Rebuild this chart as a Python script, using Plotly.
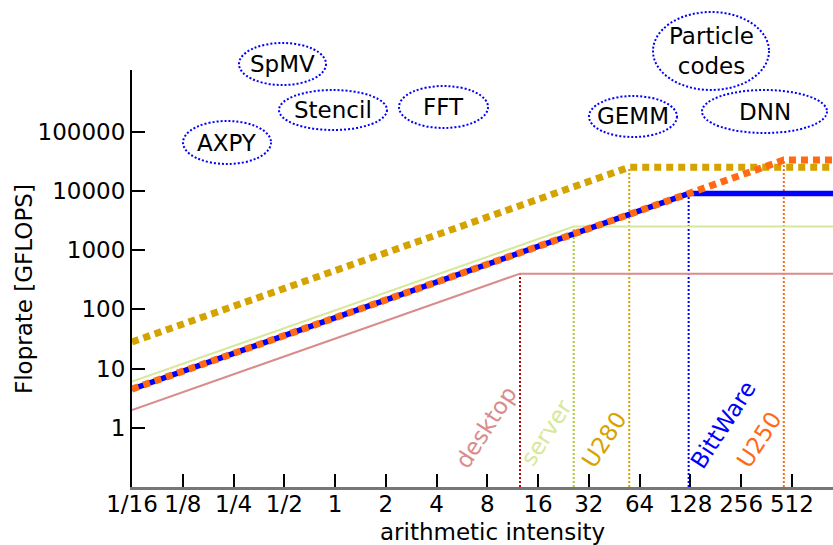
import math
import plotly.graph_objects as go

# Roofline parameters: memory bandwidth [GB/s] and peak compute [GFLOPS]
devices = ["desktop", "server", "U280", "BittWare", "U250"]
bandwidth = [32, 96, 450, 72, 72]
peak = [400, 2500, 25000, 9000, 33000]

roof_colors = ["#d98c8c", "#d6e89c", "#d4a300", "#0000ff", "#ff6a13"]
ridge_colors = ["#c00000", "#a8cc2c", "#d4a300", "#0000ff", "#ff6a13"]
label_colors = ["#d98c8c", "#d6e89c", "#d4a300", "#0000ff", "#ff6a13"]
roof_widths = [2, 2, 7, 5.5, 7]
roof_dash = ["solid", "solid", "7px,5px", "solid", "7px,5px"]
device_labels = ["desktop", "server", "U280", "BittWare", "U250"]

# Axis ticks
x_tickvals = [2.0 ** k for k in range(-4, 10)]
x_ticktext = ["1/16", "1/8", "1/4", "1/2", "1", "2", "4", "8", "16", "32",
              "64", "128", "256", "512"]
y_tickvals = [1, 10, 100, 1000, 10000, 100000]
y_ticktext = ["1", "10", "100", "1000", "10000", "100000"]

# Application kernels placed along the intensity scale
kernels = ["AXPY", "SpMV", "Stencil", "FFT", "GEMM", "Particle<br>codes", "DNN"]

AI_MIN = 1 / 16
AI_MAX = 2.0 ** 10
Y_MIN = 0.1

W, H = 833, 545
ML, MR, MT, MB = 132, 0, 70, 58
PW, PH = W - ML - MR, H - MT - MB


def px(x):
    return (x - ML) / PW


def py(y):
    return (H - MB - y) / PH


def note(x, y, text, color="black", angle=0):
    fig.add_annotation(x=px(x), y=py(y), xref="paper", yref="paper",
                       xanchor="center", yanchor="middle",
                       text=text, showarrow=False, textangle=angle,
                       font=dict(family="DejaVu Sans", size=23, color=color))


fig = go.Figure()

# vertical dotted markers at each ridge point
for name, bw, pk, c in zip(devices, bandwidth, peak, ridge_colors):
    ridge = pk / bw
    fig.add_trace(go.Scatter(
        x=[ridge, ridge], y=[Y_MIN, pk], mode="lines",
        line=dict(color=c, width=2, dash="2px,2px"),
        hoverinfo="skip", showlegend=False))

# roofline curves
for name, bw, pk, c, w, d in zip(devices, bandwidth, peak, roof_colors,
                                 roof_widths, roof_dash):
    ridge = pk / bw
    fig.add_trace(go.Scatter(
        x=[AI_MIN, ridge, AI_MAX], y=[bw * AI_MIN, pk, pk], mode="lines",
        line=dict(color=c, width=w, dash=d), name=name, showlegend=False))

# rotated device labels
label_pos = [(486, 427), (546, 433), (604, 440), (723, 425), (759, 440)]
for text, c, (lx, ly) in zip(device_labels, label_colors, label_pos):
    note(lx, ly, text, c, -57)

# kernel bubbles
bubbles = [(227, 142.5, 88, 43), (282.5, 64, 87, 42), (333, 110, 108, 40),
           (443.5, 107, 89, 42), (633, 116.5, 88, 41), (711, 51, 116, 78),
           (764.5, 111.5, 125, 43)]
for text, (cx, cy, bw_, bh) in zip(kernels, bubbles):
    fig.add_shape(type="circle", xref="paper", yref="paper",
                  x0=px(cx - bw_ / 2), x1=px(cx + bw_ / 2),
                  y0=py(cy + bh / 2), y1=py(cy - bh / 2),
                  line=dict(color="#0000ff", width=2, dash="2px,2px"))
    note(cx, cy, text)

# axis titles
note(492, 532, "arithmetic intensity")
note(24, 289, "Floprate [GFLOPS]", angle=-90)

fig.update_layout(
    width=W, height=H,
    margin=dict(l=ML, r=MR, t=MT, b=MB, pad=0),
    paper_bgcolor="white", plot_bgcolor="white",
    font=dict(family="DejaVu Sans", size=23, color="black"),
    xaxis=dict(type="log", range=[math.log10(AI_MIN), math.log10(2.0 ** 9.81)],
               tickvals=x_tickvals, ticktext=x_ticktext,
               ticks="inside", ticklen=13, tickwidth=1.5, tickcolor="black",
               ticklabelstandoff=-5,
               showline=True, linecolor="#777777", linewidth=2.5,
               showgrid=False, zeroline=False),
    yaxis=dict(type="log", range=[-1, 6.04],
               tickvals=y_tickvals, ticktext=y_ticktext,
               ticks="inside", ticklen=13, tickwidth=1.5, tickcolor="black",
               showline=True, linecolor="black", linewidth=2,
               showgrid=False, zeroline=False),
)

fig.write_html("out.html")
